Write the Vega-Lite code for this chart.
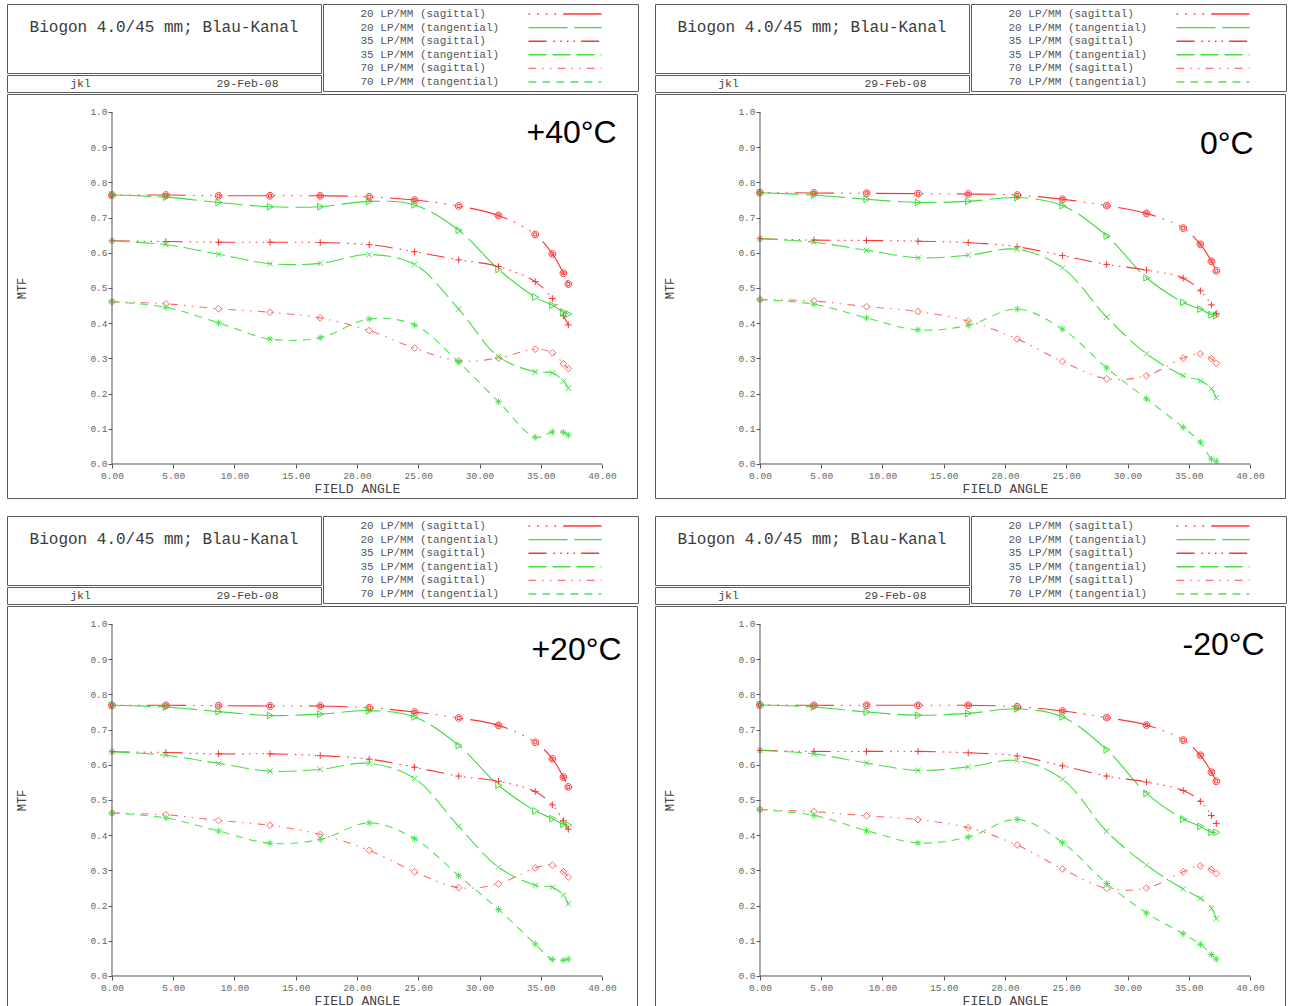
{
"$schema": "https://vega.github.io/schema/vega-lite/v6.json",
"padding": {"left": 6, "top": 3, "right": 0, "bottom": 0},
"background": "white",
"config": {
  "view": {"stroke": "#5a5a5a", "strokeWidth": 1},
  "axis": {"domain": false, "grid": false, "ticks": true, "tickSize": 4, "tickColor": "#555", "labelFont": "Liberation Mono", "labelFontSize": 9.5, "labelColor": "#666", "labelFlush": false, "labelOverlap": false, "labelPadding": 2, "titleFont": "Liberation Mono", "titleFontWeight": "normal", "titleColor": "#444"}
},
"datasets": {
  "series": [{"s":"20s"},{"s":"20t"},{"s":"35s"},{"s":"35t"},{"s":"70s"},{"s":"70t"}],
  "mtf": [
    {"p":"+40","x":0,"20s":0.764,"20t":0.764,"35s":0.634,"35t":0.634,"70s":0.461,"70t":0.461},
    {"p":"+40","x":4.4,"20s":0.764,"20t":0.758,"35s":0.632,"35t":0.623,"70s":0.455,"70t":0.445},
    {"p":"+40","x":8.7,"20s":0.762,"20t":0.743,"35s":0.630,"35t":0.596,"70s":0.441,"70t":0.401},
    {"p":"+40","x":12.9,"20s":0.762,"20t":0.731,"35s":0.630,"35t":0.569,"70s":0.431,"70t":0.355},
    {"p":"+40","x":17.0,"20s":0.762,"20t":0.731,"35s":0.629,"35t":0.570,"70s":0.415,"70t":0.359},
    {"p":"+40","x":21.0,"20s":0.759,"20t":0.746,"35s":0.623,"35t":0.595,"70s":0.379,"70t":0.412},
    {"p":"+40","x":24.7,"20s":0.750,"20t":0.736,"35s":0.603,"35t":0.567,"70s":0.329,"70t":0.395},
    {"p":"+40","x":28.3,"20s":0.733,"20t":0.664,"35s":0.580,"35t":0.440,"70s":0.293,"70t":0.289},
    {"p":"+40","x":31.55,"20s":0.706,"20t":0.553,"35s":0.561,"35t":0.305,"70s":0.301,"70t":0.177},
    {"p":"+40","x":34.55,"20s":0.652,"20t":0.474,"35s":0.518,"35t":0.262,"70s":0.326,"70t":0.076},
    {"p":"+40","x":35.95,"20s":0.597,"20t":0.451,"35s":0.470,"35t":0.259,"70s":0.316,"70t":0.091},
    {"p":"+40","x":36.85,"20s":0.542,"20t":0.432,"35s":0.421,"35t":0.235,"70s":0.285,"70t":0.090},
    {"p":"+40","x":37.25,"20s":0.511,"20t":0.426,"35s":0.395,"35t":0.215,"70s":0.271,"70t":0.082},
    {"p":"0","x":0,"20s":0.771,"20t":0.771,"35s":0.640,"35t":0.640,"70s":0.467,"70t":0.467},
    {"p":"0","x":4.4,"20s":0.770,"20t":0.764,"35s":0.636,"35t":0.630,"70s":0.463,"70t":0.454},
    {"p":"0","x":8.7,"20s":0.769,"20t":0.752,"35s":0.635,"35t":0.607,"70s":0.447,"70t":0.415},
    {"p":"0","x":12.9,"20s":0.768,"20t":0.743,"35s":0.633,"35t":0.586,"70s":0.433,"70t":0.381},
    {"p":"0","x":17.0,"20s":0.767,"20t":0.746,"35s":0.629,"35t":0.593,"70s":0.406,"70t":0.394},
    {"p":"0","x":21.0,"20s":0.764,"20t":0.757,"35s":0.617,"35t":0.610,"70s":0.355,"70t":0.440},
    {"p":"0","x":24.7,"20s":0.752,"20t":0.734,"35s":0.592,"35t":0.557,"70s":0.291,"70t":0.383},
    {"p":"0","x":28.3,"20s":0.734,"20t":0.648,"35s":0.567,"35t":0.417,"70s":0.242,"70t":0.273},
    {"p":"0","x":31.55,"20s":0.712,"20t":0.529,"35s":0.551,"35t":0.313,"70s":0.251,"70t":0.185},
    {"p":"0","x":34.55,"20s":0.670,"20t":0.459,"35s":0.528,"35t":0.251,"70s":0.301,"70t":0.104},
    {"p":"0","x":35.95,"20s":0.624,"20t":0.440,"35s":0.492,"35t":0.237,"70s":0.313,"70t":0.062},
    {"p":"0","x":36.85,"20s":0.576,"20t":0.424,"35s":0.452,"35t":0.214,"70s":0.299,"70t":0.014},
    {"p":"0","x":37.25,"20s":0.549,"20t":0.422,"35s":0.427,"35t":0.188,"70s":0.286,"70t":0.008},
    {"p":"+20","x":0,"20s":0.769,"20t":0.769,"35s":0.637,"35t":0.637,"70s":0.463,"70t":0.463},
    {"p":"+20","x":4.4,"20s":0.769,"20t":0.764,"35s":0.635,"35t":0.627,"70s":0.458,"70t":0.449},
    {"p":"+20","x":8.7,"20s":0.768,"20t":0.751,"35s":0.631,"35t":0.604,"70s":0.442,"70t":0.412},
    {"p":"+20","x":12.9,"20s":0.767,"20t":0.740,"35s":0.631,"35t":0.582,"70s":0.428,"70t":0.377},
    {"p":"+20","x":17.0,"20s":0.767,"20t":0.744,"35s":0.626,"35t":0.587,"70s":0.402,"70t":0.388},
    {"p":"+20","x":21.0,"20s":0.762,"20t":0.754,"35s":0.616,"35t":0.604,"70s":0.357,"70t":0.435},
    {"p":"+20","x":24.7,"20s":0.750,"20t":0.736,"35s":0.593,"35t":0.561,"70s":0.296,"70t":0.390},
    {"p":"+20","x":28.3,"20s":0.733,"20t":0.655,"35s":0.568,"35t":0.425,"70s":0.251,"70t":0.285},
    {"p":"+20","x":31.55,"20s":0.712,"20t":0.542,"35s":0.553,"35t":0.309,"70s":0.262,"70t":0.189},
    {"p":"+20","x":34.55,"20s":0.664,"20t":0.469,"35s":0.524,"35t":0.258,"70s":0.307,"70t":0.091},
    {"p":"+20","x":35.95,"20s":0.617,"20t":0.447,"35s":0.486,"35t":0.252,"70s":0.315,"70t":0.047},
    {"p":"+20","x":36.85,"20s":0.565,"20t":0.431,"35s":0.441,"35t":0.230,"70s":0.296,"70t":0.045},
    {"p":"+20","x":37.25,"20s":0.537,"20t":0.429,"35s":0.417,"35t":0.205,"70s":0.281,"70t":0.048},
    {"p":"-20","x":0,"20s":0.770,"20t":0.770,"35s":0.641,"35t":0.641,"70s":0.473,"70t":0.473},
    {"p":"-20","x":4.4,"20s":0.769,"20t":0.764,"35s":0.638,"35t":0.631,"70s":0.467,"70t":0.456},
    {"p":"-20","x":8.7,"20s":0.769,"20t":0.750,"35s":0.638,"35t":0.605,"70s":0.455,"70t":0.413},
    {"p":"-20","x":12.9,"20s":0.769,"20t":0.741,"35s":0.638,"35t":0.584,"70s":0.444,"70t":0.378},
    {"p":"-20","x":17.0,"20s":0.769,"20t":0.746,"35s":0.634,"35t":0.594,"70s":0.421,"70t":0.395},
    {"p":"-20","x":21.0,"20s":0.765,"20t":0.759,"35s":0.625,"35t":0.612,"70s":0.372,"70t":0.445},
    {"p":"-20","x":24.7,"20s":0.753,"20t":0.736,"35s":0.597,"35t":0.559,"70s":0.304,"70t":0.379},
    {"p":"-20","x":28.3,"20s":0.734,"20t":0.643,"35s":0.568,"35t":0.411,"70s":0.249,"70t":0.263},
    {"p":"-20","x":31.55,"20s":0.713,"20t":0.519,"35s":0.551,"35t":0.315,"70s":0.250,"70t":0.179},
    {"p":"-20","x":34.55,"20s":0.670,"20t":0.446,"35s":0.527,"35t":0.247,"70s":0.296,"70t":0.120},
    {"p":"-20","x":35.95,"20s":0.627,"20t":0.425,"35s":0.496,"35t":0.221,"70s":0.313,"70t":0.090},
    {"p":"-20","x":36.85,"20s":0.579,"20t":0.408,"35s":0.456,"35t":0.192,"70s":0.302,"70t":0.061},
    {"p":"-20","x":37.25,"20s":0.553,"20t":0.408,"35s":0.433,"35t":0.163,"70s":0.291,"70t":0.048}
  ]
},
"resolve": {"scale": {"stroke": "independent", "strokeDash": "independent", "shape": "independent"}, "legend": {"stroke": "independent", "strokeDash": "independent"}},
"vconcat": [
 {"resolve": {"scale": {"stroke": "independent", "strokeDash": "independent", "shape": "independent"}, "legend": {"stroke": "independent", "strokeDash": "independent"}},
  "hconcat": [
  {"resolve": {"scale": {"stroke": "independent", "strokeDash": "independent", "shape": "independent"}, "legend": {"stroke": "independent", "strokeDash": "independent"}},
   "vconcat": [
    {"resolve": {"scale": {"stroke": "independent", "strokeDash": "independent"}, "legend": {"stroke": "independent", "strokeDash": "independent"}},
     "hconcat": [
      {"vconcat": [
        {"width": 314, "height": 69, "data": {"values": [{"t": "Biogon 4.0/45 mm; Blau-Kanal"}]}, "mark": {"type": "text", "font": "Liberation Mono", "fontSize": 16, "color": "#3a3a3a", "dy": -11.5}, "encoding": {"x": {"field": "t", "type": "nominal", "axis": null, "scale": {"type": "point", "padding": 0.5}}, "text": {"field": "t", "type": "nominal"}}},
        {"width": 314, "height": 17, "data": {"values": [{"t": "jkl"}, {"t": "29-Feb-08"}]}, "mark": {"type": "text", "font": "Liberation Mono", "fontSize": 11.5, "color": "#444"}, "encoding": {"x": {"field": "t", "type": "nominal", "sort": null, "axis": null, "scale": {"type": "point", "padding": 0.44}}, "text": {"field": "t", "type": "nominal"}}}
      ], "spacing": 0},
      {"width": 315, "height": 87, "data": {"name": "series"}, "mark": {"type": "line", "strokeWidth": 1.4},
       "encoding": {
        "y": {"field": "s", "type": "nominal", "axis": null},
        "stroke": {"field": "s", "type": "nominal", "scale": {"domain": ["20s","20t","35s","35t","70s","70t"], "range": ["#ff3333","#3ddc3d","#ff3333","#44e044","#ff6a6a","#4be64b"]}, "legend": {"title": null, "orient": "none", "legendX": 235, "legendY": 3, "symbolType": "M-6,0L6,0", "symbolSize": 148, "symbolStrokeWidth": 1.4, "labelFont": "Liberation Mono", "labelFontSize": 11, "labelColor": "#555", "labelAlign": "left", "labelOffset": -211.5, "labelLimit": 300, "rowPadding": 1.6, "padding": 0, "labelExpr": "slice(datum.value,0,2) + ' LP/MM (' + (slice(datum.value,2) == 's' ? 'sagittal' : 'tangential') + ')'"}},
        "strokeDash": {"field": "s", "type": "nominal", "scale": {"domain": ["20s","20t","35s","35t","70s","70t"], "range": [[1.5,7.2,1.5,7.2,1.5,7.2,1.5,7.2,39,7.2],[39,7],[18,7,1.5,5.2,1.5,5.2,1.5,5.2,1.5,6],[18,6],[7.7,6,1.5,6.2,1.5,6.3],[7.8,6.2]]}, "legend": {"title": null, "orient": "none", "legendX": 235, "legendY": 3, "symbolType": "M-6,0L6,0", "symbolSize": 148, "symbolStrokeWidth": 1.4, "labelFont": "Liberation Mono", "labelFontSize": 11, "labelColor": "#555", "labelAlign": "left", "labelOffset": -211.5, "labelLimit": 300, "rowPadding": 1.6, "padding": 0, "labelExpr": "slice(datum.value,0,2) + ' LP/MM (' + (slice(datum.value,2) == 's' ? 'sagittal' : 'tangential') + ')'"}}
       }}
    ], "spacing": 0},
    {"width": 630, "height": 404,
     "layer": [
      {"data": {"name": "mtf"}, "transform": [{"filter": {"field": "p", "equal": "+40"}}, {"fold": ["20s","20t","35s","35t","70s","70t"], "as": ["s","y"]}],
       "mark": {"type": "line", "interpolate": "catmull-rom", "strokeWidth": 1.1},
       "encoding": {
        "x": {"field": "x", "type": "quantitative", "scale": {"domain": [-8.571, 42.857], "nice": false, "zero": false}, "axis": {"orient": "bottom", "offset": -34, "values": [0,5,10,15,20,25,30,35,40], "format": ".2f", "title": "FIELD ANGLE", "titleFontSize": 13, "titleX": 350, "titleY": 28, "titleAlign": "center", "titleBaseline": "alphabetic"}},
        "y": {"field": "y", "type": "quantitative", "scale": {"domain": [-0.0966, 1.0511], "nice": false, "zero": false}, "axis": {"orient": "left", "offset": -105, "values": [0,0.1,0.2,0.3,0.4,0.5,0.6,0.7,0.8,0.9,1], "format": ".1f", "labelPadding": 1, "title": "MTF", "titleFontSize": 12, "titleX": -91, "titleY": 194, "titleAngle": 270, "titleAlign": "center", "titleBaseline": "middle"}},
        "stroke": {"field": "s", "type": "nominal", "scale": {"domain": ["20s","20t","35s","35t","70s","70t"], "range": ["#ff3333","#3ddc3d","#ff3333","#44e044","#ff6a6a","#4be64b"]}, "legend": null},
        "strokeDash": {"field": "s", "type": "nominal", "scale": {"domain": ["20s","20t","35s","35t","70s","70t"], "range": [[1.5,7.2,1.5,7.2,1.5,7.2,1.5,7.2,39,7.2],[39,7],[18,7,1.5,5.2,1.5,5.2,1.5,5.2,1.5,6],[18,6],[7.7,6,1.5,6.2,1.5,6.3],[7.8,6.2]]}, "legend": null}
       }},
      {"data": {"name": "mtf"}, "transform": [{"filter": {"field": "p", "equal": "+40"}}, {"fold": ["20s","20t","35s","35t","70s","70t"], "as": ["s","y"]}],
       "mark": {"type": "point", "filled": false, "size": 45, "strokeWidth": 1, "opacity": 1},
       "encoding": {
        "x": {"field": "x", "type": "quantitative", "scale": {"domain": [-8.571, 42.857], "nice": false, "zero": false}},
        "y": {"field": "y", "type": "quantitative", "scale": {"domain": [-0.0966, 1.0511], "nice": false, "zero": false}},
        "stroke": {"field": "s", "type": "nominal", "scale": {"domain": ["20s","20t","35s","35t","70s","70t"], "range": ["#ff3333","#3ddc3d","#ff3333","#44e044","#ff6a6a","#4be64b"]}, "legend": null},
        "shape": {"field": "s", "type": "nominal", "scale": {"domain": ["20s","20t","35s","35t","70s","70t"], "range": ["M-1,0A1,1,0,1,1,1,0A1,1,0,1,1,-1,0ZM-0.45,-0.45L0.45,-0.45L0.45,0.45L-0.45,0.45Z","M-0.8,-1L1,0L-0.8,1Z","M-1,0L1,0M0,-1L0,1","M-0.8,-0.8L0.8,0.8M-0.8,0.8L0.8,-0.8","M0,-1L1,0L0,1L-1,0Z","M-1,0L1,0M0,-1L0,1M-0.7,-0.7L0.7,0.7M-0.7,0.7L0.7,-0.7"]}, "legend": null}
       }},
      {"data": {"values": [{}]}, "mark": {"type": "rule", "color": "#555", "strokeWidth": 1},
       "encoding": {"x": {"datum": 0, "type": "quantitative", "scale": {"domain": [-8.571, 42.857], "nice": false, "zero": false}}, "x2": {"datum": 40}, "y": {"datum": 0, "type": "quantitative", "scale": {"domain": [-0.0966, 1.0511], "nice": false, "zero": false}}}},
      {"data": {"values": [{}]}, "mark": {"type": "rule", "color": "#555", "strokeWidth": 1},
       "encoding": {"x": {"datum": 0, "type": "quantitative", "scale": {"domain": [-8.571, 42.857], "nice": false, "zero": false}}, "y": {"datum": 0, "type": "quantitative", "scale": {"domain": [-0.0966, 1.0511], "nice": false, "zero": false}}, "y2": {"datum": 1}}},
      {"data": {"values": [{"t": "+40°C"}]}, "mark": {"type": "text", "font": "Liberation Sans", "fontSize": 32, "align": "right", "baseline": "middle", "color": "#000"},
       "encoding": {"x": {"datum": 41.2, "type": "quantitative", "scale": {"domain": [-8.571, 42.857], "nice": false, "zero": false}}, "y": {"datum": 0.94, "type": "quantitative", "scale": {"domain": [-0.0966, 1.0511], "nice": false, "zero": false}}, "text": {"field": "t", "type": "nominal"}}}
     ]}
  ], "spacing": 0},
  {"resolve": {"scale": {"stroke": "independent", "strokeDash": "independent", "shape": "independent"}, "legend": {"stroke": "independent", "strokeDash": "independent"}},
   "vconcat": [
    {"resolve": {"scale": {"stroke": "independent", "strokeDash": "independent"}, "legend": {"stroke": "independent", "strokeDash": "independent"}},
     "hconcat": [
      {"vconcat": [
        {"width": 314, "height": 69, "data": {"values": [{"t": "Biogon 4.0/45 mm; Blau-Kanal"}]}, "mark": {"type": "text", "font": "Liberation Mono", "fontSize": 16, "color": "#3a3a3a", "dy": -11.5}, "encoding": {"x": {"field": "t", "type": "nominal", "axis": null, "scale": {"type": "point", "padding": 0.5}}, "text": {"field": "t", "type": "nominal"}}},
        {"width": 314, "height": 17, "data": {"values": [{"t": "jkl"}, {"t": "29-Feb-08"}]}, "mark": {"type": "text", "font": "Liberation Mono", "fontSize": 11.5, "color": "#444"}, "encoding": {"x": {"field": "t", "type": "nominal", "sort": null, "axis": null, "scale": {"type": "point", "padding": 0.44}}, "text": {"field": "t", "type": "nominal"}}}
      ], "spacing": 0},
      {"width": 315, "height": 87, "data": {"name": "series"}, "mark": {"type": "line", "strokeWidth": 1.4},
       "encoding": {
        "y": {"field": "s", "type": "nominal", "axis": null},
        "stroke": {"field": "s", "type": "nominal", "scale": {"domain": ["20s","20t","35s","35t","70s","70t"], "range": ["#ff3333","#3ddc3d","#ff3333","#44e044","#ff6a6a","#4be64b"]}, "legend": {"title": null, "orient": "none", "legendX": 235, "legendY": 3, "symbolType": "M-6,0L6,0", "symbolSize": 148, "symbolStrokeWidth": 1.4, "labelFont": "Liberation Mono", "labelFontSize": 11, "labelColor": "#555", "labelAlign": "left", "labelOffset": -211.5, "labelLimit": 300, "rowPadding": 1.6, "padding": 0, "labelExpr": "slice(datum.value,0,2) + ' LP/MM (' + (slice(datum.value,2) == 's' ? 'sagittal' : 'tangential') + ')'"}},
        "strokeDash": {"field": "s", "type": "nominal", "scale": {"domain": ["20s","20t","35s","35t","70s","70t"], "range": [[1.5,7.2,1.5,7.2,1.5,7.2,1.5,7.2,39,7.2],[39,7],[18,7,1.5,5.2,1.5,5.2,1.5,5.2,1.5,6],[18,6],[7.7,6,1.5,6.2,1.5,6.3],[7.8,6.2]]}, "legend": {"title": null, "orient": "none", "legendX": 235, "legendY": 3, "symbolType": "M-6,0L6,0", "symbolSize": 148, "symbolStrokeWidth": 1.4, "labelFont": "Liberation Mono", "labelFontSize": 11, "labelColor": "#555", "labelAlign": "left", "labelOffset": -211.5, "labelLimit": 300, "rowPadding": 1.6, "padding": 0, "labelExpr": "slice(datum.value,0,2) + ' LP/MM (' + (slice(datum.value,2) == 's' ? 'sagittal' : 'tangential') + ')'"}}
       }}
    ], "spacing": 0},
    {"width": 630, "height": 404,
     "layer": [
      {"data": {"name": "mtf"}, "transform": [{"filter": {"field": "p", "equal": "0"}}, {"fold": ["20s","20t","35s","35t","70s","70t"], "as": ["s","y"]}],
       "mark": {"type": "line", "interpolate": "catmull-rom", "strokeWidth": 1.1},
       "encoding": {
        "x": {"field": "x", "type": "quantitative", "scale": {"domain": [-8.571, 42.857], "nice": false, "zero": false}, "axis": {"orient": "bottom", "offset": -34, "values": [0,5,10,15,20,25,30,35,40], "format": ".2f", "title": "FIELD ANGLE", "titleFontSize": 13, "titleX": 350, "titleY": 28, "titleAlign": "center", "titleBaseline": "alphabetic"}},
        "y": {"field": "y", "type": "quantitative", "scale": {"domain": [-0.0966, 1.0511], "nice": false, "zero": false}, "axis": {"orient": "left", "offset": -105, "values": [0,0.1,0.2,0.3,0.4,0.5,0.6,0.7,0.8,0.9,1], "format": ".1f", "labelPadding": 1, "title": "MTF", "titleFontSize": 12, "titleX": -91, "titleY": 194, "titleAngle": 270, "titleAlign": "center", "titleBaseline": "middle"}},
        "stroke": {"field": "s", "type": "nominal", "scale": {"domain": ["20s","20t","35s","35t","70s","70t"], "range": ["#ff3333","#3ddc3d","#ff3333","#44e044","#ff6a6a","#4be64b"]}, "legend": null},
        "strokeDash": {"field": "s", "type": "nominal", "scale": {"domain": ["20s","20t","35s","35t","70s","70t"], "range": [[1.5,7.2,1.5,7.2,1.5,7.2,1.5,7.2,39,7.2],[39,7],[18,7,1.5,5.2,1.5,5.2,1.5,5.2,1.5,6],[18,6],[7.7,6,1.5,6.2,1.5,6.3],[7.8,6.2]]}, "legend": null}
       }},
      {"data": {"name": "mtf"}, "transform": [{"filter": {"field": "p", "equal": "0"}}, {"fold": ["20s","20t","35s","35t","70s","70t"], "as": ["s","y"]}],
       "mark": {"type": "point", "filled": false, "size": 45, "strokeWidth": 1, "opacity": 1},
       "encoding": {
        "x": {"field": "x", "type": "quantitative", "scale": {"domain": [-8.571, 42.857], "nice": false, "zero": false}},
        "y": {"field": "y", "type": "quantitative", "scale": {"domain": [-0.0966, 1.0511], "nice": false, "zero": false}},
        "stroke": {"field": "s", "type": "nominal", "scale": {"domain": ["20s","20t","35s","35t","70s","70t"], "range": ["#ff3333","#3ddc3d","#ff3333","#44e044","#ff6a6a","#4be64b"]}, "legend": null},
        "shape": {"field": "s", "type": "nominal", "scale": {"domain": ["20s","20t","35s","35t","70s","70t"], "range": ["M-1,0A1,1,0,1,1,1,0A1,1,0,1,1,-1,0ZM-0.45,-0.45L0.45,-0.45L0.45,0.45L-0.45,0.45Z","M-0.8,-1L1,0L-0.8,1Z","M-1,0L1,0M0,-1L0,1","M-0.8,-0.8L0.8,0.8M-0.8,0.8L0.8,-0.8","M0,-1L1,0L0,1L-1,0Z","M-1,0L1,0M0,-1L0,1M-0.7,-0.7L0.7,0.7M-0.7,0.7L0.7,-0.7"]}, "legend": null}
       }},
      {"data": {"values": [{}]}, "mark": {"type": "rule", "color": "#555", "strokeWidth": 1},
       "encoding": {"x": {"datum": 0, "type": "quantitative", "scale": {"domain": [-8.571, 42.857], "nice": false, "zero": false}}, "x2": {"datum": 40}, "y": {"datum": 0, "type": "quantitative", "scale": {"domain": [-0.0966, 1.0511], "nice": false, "zero": false}}}},
      {"data": {"values": [{}]}, "mark": {"type": "rule", "color": "#555", "strokeWidth": 1},
       "encoding": {"x": {"datum": 0, "type": "quantitative", "scale": {"domain": [-8.571, 42.857], "nice": false, "zero": false}}, "y": {"datum": 0, "type": "quantitative", "scale": {"domain": [-0.0966, 1.0511], "nice": false, "zero": false}}, "y2": {"datum": 1}}},
      {"data": {"values": [{"t": "0°C"}]}, "mark": {"type": "text", "font": "Liberation Sans", "fontSize": 32, "align": "right", "baseline": "middle", "color": "#000"},
       "encoding": {"x": {"datum": 40.3, "type": "quantitative", "scale": {"domain": [-8.571, 42.857], "nice": false, "zero": false}}, "y": {"datum": 0.91, "type": "quantitative", "scale": {"domain": [-0.0966, 1.0511], "nice": false, "zero": false}}, "text": {"field": "t", "type": "nominal"}}}
     ]}
  ], "spacing": 0}
 ], "spacing": 15},
 {"resolve": {"scale": {"stroke": "independent", "strokeDash": "independent", "shape": "independent"}, "legend": {"stroke": "independent", "strokeDash": "independent"}},
  "hconcat": [
  {"resolve": {"scale": {"stroke": "independent", "strokeDash": "independent", "shape": "independent"}, "legend": {"stroke": "independent", "strokeDash": "independent"}},
   "vconcat": [
    {"resolve": {"scale": {"stroke": "independent", "strokeDash": "independent"}, "legend": {"stroke": "independent", "strokeDash": "independent"}},
     "hconcat": [
      {"vconcat": [
        {"width": 314, "height": 69, "data": {"values": [{"t": "Biogon 4.0/45 mm; Blau-Kanal"}]}, "mark": {"type": "text", "font": "Liberation Mono", "fontSize": 16, "color": "#3a3a3a", "dy": -11.5}, "encoding": {"x": {"field": "t", "type": "nominal", "axis": null, "scale": {"type": "point", "padding": 0.5}}, "text": {"field": "t", "type": "nominal"}}},
        {"width": 314, "height": 17, "data": {"values": [{"t": "jkl"}, {"t": "29-Feb-08"}]}, "mark": {"type": "text", "font": "Liberation Mono", "fontSize": 11.5, "color": "#444"}, "encoding": {"x": {"field": "t", "type": "nominal", "sort": null, "axis": null, "scale": {"type": "point", "padding": 0.44}}, "text": {"field": "t", "type": "nominal"}}}
      ], "spacing": 0},
      {"width": 315, "height": 87, "data": {"name": "series"}, "mark": {"type": "line", "strokeWidth": 1.4},
       "encoding": {
        "y": {"field": "s", "type": "nominal", "axis": null},
        "stroke": {"field": "s", "type": "nominal", "scale": {"domain": ["20s","20t","35s","35t","70s","70t"], "range": ["#ff3333","#3ddc3d","#ff3333","#44e044","#ff6a6a","#4be64b"]}, "legend": {"title": null, "orient": "none", "legendX": 235, "legendY": 3, "symbolType": "M-6,0L6,0", "symbolSize": 148, "symbolStrokeWidth": 1.4, "labelFont": "Liberation Mono", "labelFontSize": 11, "labelColor": "#555", "labelAlign": "left", "labelOffset": -211.5, "labelLimit": 300, "rowPadding": 1.6, "padding": 0, "labelExpr": "slice(datum.value,0,2) + ' LP/MM (' + (slice(datum.value,2) == 's' ? 'sagittal' : 'tangential') + ')'"}},
        "strokeDash": {"field": "s", "type": "nominal", "scale": {"domain": ["20s","20t","35s","35t","70s","70t"], "range": [[1.5,7.2,1.5,7.2,1.5,7.2,1.5,7.2,39,7.2],[39,7],[18,7,1.5,5.2,1.5,5.2,1.5,5.2,1.5,6],[18,6],[7.7,6,1.5,6.2,1.5,6.3],[7.8,6.2]]}, "legend": {"title": null, "orient": "none", "legendX": 235, "legendY": 3, "symbolType": "M-6,0L6,0", "symbolSize": 148, "symbolStrokeWidth": 1.4, "labelFont": "Liberation Mono", "labelFontSize": 11, "labelColor": "#555", "labelAlign": "left", "labelOffset": -211.5, "labelLimit": 300, "rowPadding": 1.6, "padding": 0, "labelExpr": "slice(datum.value,0,2) + ' LP/MM (' + (slice(datum.value,2) == 's' ? 'sagittal' : 'tangential') + ')'"}}
       }}
    ], "spacing": 0},
    {"width": 630, "height": 404,
     "layer": [
      {"data": {"name": "mtf"}, "transform": [{"filter": {"field": "p", "equal": "+20"}}, {"fold": ["20s","20t","35s","35t","70s","70t"], "as": ["s","y"]}],
       "mark": {"type": "line", "interpolate": "catmull-rom", "strokeWidth": 1.1},
       "encoding": {
        "x": {"field": "x", "type": "quantitative", "scale": {"domain": [-8.571, 42.857], "nice": false, "zero": false}, "axis": {"orient": "bottom", "offset": -34, "values": [0,5,10,15,20,25,30,35,40], "format": ".2f", "title": "FIELD ANGLE", "titleFontSize": 13, "titleX": 350, "titleY": 28, "titleAlign": "center", "titleBaseline": "alphabetic"}},
        "y": {"field": "y", "type": "quantitative", "scale": {"domain": [-0.0966, 1.0511], "nice": false, "zero": false}, "axis": {"orient": "left", "offset": -105, "values": [0,0.1,0.2,0.3,0.4,0.5,0.6,0.7,0.8,0.9,1], "format": ".1f", "labelPadding": 1, "title": "MTF", "titleFontSize": 12, "titleX": -91, "titleY": 194, "titleAngle": 270, "titleAlign": "center", "titleBaseline": "middle"}},
        "stroke": {"field": "s", "type": "nominal", "scale": {"domain": ["20s","20t","35s","35t","70s","70t"], "range": ["#ff3333","#3ddc3d","#ff3333","#44e044","#ff6a6a","#4be64b"]}, "legend": null},
        "strokeDash": {"field": "s", "type": "nominal", "scale": {"domain": ["20s","20t","35s","35t","70s","70t"], "range": [[1.5,7.2,1.5,7.2,1.5,7.2,1.5,7.2,39,7.2],[39,7],[18,7,1.5,5.2,1.5,5.2,1.5,5.2,1.5,6],[18,6],[7.7,6,1.5,6.2,1.5,6.3],[7.8,6.2]]}, "legend": null}
       }},
      {"data": {"name": "mtf"}, "transform": [{"filter": {"field": "p", "equal": "+20"}}, {"fold": ["20s","20t","35s","35t","70s","70t"], "as": ["s","y"]}],
       "mark": {"type": "point", "filled": false, "size": 45, "strokeWidth": 1, "opacity": 1},
       "encoding": {
        "x": {"field": "x", "type": "quantitative", "scale": {"domain": [-8.571, 42.857], "nice": false, "zero": false}},
        "y": {"field": "y", "type": "quantitative", "scale": {"domain": [-0.0966, 1.0511], "nice": false, "zero": false}},
        "stroke": {"field": "s", "type": "nominal", "scale": {"domain": ["20s","20t","35s","35t","70s","70t"], "range": ["#ff3333","#3ddc3d","#ff3333","#44e044","#ff6a6a","#4be64b"]}, "legend": null},
        "shape": {"field": "s", "type": "nominal", "scale": {"domain": ["20s","20t","35s","35t","70s","70t"], "range": ["M-1,0A1,1,0,1,1,1,0A1,1,0,1,1,-1,0ZM-0.45,-0.45L0.45,-0.45L0.45,0.45L-0.45,0.45Z","M-0.8,-1L1,0L-0.8,1Z","M-1,0L1,0M0,-1L0,1","M-0.8,-0.8L0.8,0.8M-0.8,0.8L0.8,-0.8","M0,-1L1,0L0,1L-1,0Z","M-1,0L1,0M0,-1L0,1M-0.7,-0.7L0.7,0.7M-0.7,0.7L0.7,-0.7"]}, "legend": null}
       }},
      {"data": {"values": [{}]}, "mark": {"type": "rule", "color": "#555", "strokeWidth": 1},
       "encoding": {"x": {"datum": 0, "type": "quantitative", "scale": {"domain": [-8.571, 42.857], "nice": false, "zero": false}}, "x2": {"datum": 40}, "y": {"datum": 0, "type": "quantitative", "scale": {"domain": [-0.0966, 1.0511], "nice": false, "zero": false}}}},
      {"data": {"values": [{}]}, "mark": {"type": "rule", "color": "#555", "strokeWidth": 1},
       "encoding": {"x": {"datum": 0, "type": "quantitative", "scale": {"domain": [-8.571, 42.857], "nice": false, "zero": false}}, "y": {"datum": 0, "type": "quantitative", "scale": {"domain": [-0.0966, 1.0511], "nice": false, "zero": false}}, "y2": {"datum": 1}}},
      {"data": {"values": [{"t": "+20°C"}]}, "mark": {"type": "text", "font": "Liberation Sans", "fontSize": 32, "align": "right", "baseline": "middle", "color": "#000"},
       "encoding": {"x": {"datum": 41.6, "type": "quantitative", "scale": {"domain": [-8.571, 42.857], "nice": false, "zero": false}}, "y": {"datum": 0.925, "type": "quantitative", "scale": {"domain": [-0.0966, 1.0511], "nice": false, "zero": false}}, "text": {"field": "t", "type": "nominal"}}}
     ]}
  ], "spacing": 0},
  {"resolve": {"scale": {"stroke": "independent", "strokeDash": "independent", "shape": "independent"}, "legend": {"stroke": "independent", "strokeDash": "independent"}},
   "vconcat": [
    {"resolve": {"scale": {"stroke": "independent", "strokeDash": "independent"}, "legend": {"stroke": "independent", "strokeDash": "independent"}},
     "hconcat": [
      {"vconcat": [
        {"width": 314, "height": 69, "data": {"values": [{"t": "Biogon 4.0/45 mm; Blau-Kanal"}]}, "mark": {"type": "text", "font": "Liberation Mono", "fontSize": 16, "color": "#3a3a3a", "dy": -11.5}, "encoding": {"x": {"field": "t", "type": "nominal", "axis": null, "scale": {"type": "point", "padding": 0.5}}, "text": {"field": "t", "type": "nominal"}}},
        {"width": 314, "height": 17, "data": {"values": [{"t": "jkl"}, {"t": "29-Feb-08"}]}, "mark": {"type": "text", "font": "Liberation Mono", "fontSize": 11.5, "color": "#444"}, "encoding": {"x": {"field": "t", "type": "nominal", "sort": null, "axis": null, "scale": {"type": "point", "padding": 0.44}}, "text": {"field": "t", "type": "nominal"}}}
      ], "spacing": 0},
      {"width": 315, "height": 87, "data": {"name": "series"}, "mark": {"type": "line", "strokeWidth": 1.4},
       "encoding": {
        "y": {"field": "s", "type": "nominal", "axis": null},
        "stroke": {"field": "s", "type": "nominal", "scale": {"domain": ["20s","20t","35s","35t","70s","70t"], "range": ["#ff3333","#3ddc3d","#ff3333","#44e044","#ff6a6a","#4be64b"]}, "legend": {"title": null, "orient": "none", "legendX": 235, "legendY": 3, "symbolType": "M-6,0L6,0", "symbolSize": 148, "symbolStrokeWidth": 1.4, "labelFont": "Liberation Mono", "labelFontSize": 11, "labelColor": "#555", "labelAlign": "left", "labelOffset": -211.5, "labelLimit": 300, "rowPadding": 1.6, "padding": 0, "labelExpr": "slice(datum.value,0,2) + ' LP/MM (' + (slice(datum.value,2) == 's' ? 'sagittal' : 'tangential') + ')'"}},
        "strokeDash": {"field": "s", "type": "nominal", "scale": {"domain": ["20s","20t","35s","35t","70s","70t"], "range": [[1.5,7.2,1.5,7.2,1.5,7.2,1.5,7.2,39,7.2],[39,7],[18,7,1.5,5.2,1.5,5.2,1.5,5.2,1.5,6],[18,6],[7.7,6,1.5,6.2,1.5,6.3],[7.8,6.2]]}, "legend": {"title": null, "orient": "none", "legendX": 235, "legendY": 3, "symbolType": "M-6,0L6,0", "symbolSize": 148, "symbolStrokeWidth": 1.4, "labelFont": "Liberation Mono", "labelFontSize": 11, "labelColor": "#555", "labelAlign": "left", "labelOffset": -211.5, "labelLimit": 300, "rowPadding": 1.6, "padding": 0, "labelExpr": "slice(datum.value,0,2) + ' LP/MM (' + (slice(datum.value,2) == 's' ? 'sagittal' : 'tangential') + ')'"}}
       }}
    ], "spacing": 0},
    {"width": 630, "height": 404,
     "layer": [
      {"data": {"name": "mtf"}, "transform": [{"filter": {"field": "p", "equal": "-20"}}, {"fold": ["20s","20t","35s","35t","70s","70t"], "as": ["s","y"]}],
       "mark": {"type": "line", "interpolate": "catmull-rom", "strokeWidth": 1.1},
       "encoding": {
        "x": {"field": "x", "type": "quantitative", "scale": {"domain": [-8.571, 42.857], "nice": false, "zero": false}, "axis": {"orient": "bottom", "offset": -34, "values": [0,5,10,15,20,25,30,35,40], "format": ".2f", "title": "FIELD ANGLE", "titleFontSize": 13, "titleX": 350, "titleY": 28, "titleAlign": "center", "titleBaseline": "alphabetic"}},
        "y": {"field": "y", "type": "quantitative", "scale": {"domain": [-0.0966, 1.0511], "nice": false, "zero": false}, "axis": {"orient": "left", "offset": -105, "values": [0,0.1,0.2,0.3,0.4,0.5,0.6,0.7,0.8,0.9,1], "format": ".1f", "labelPadding": 1, "title": "MTF", "titleFontSize": 12, "titleX": -91, "titleY": 194, "titleAngle": 270, "titleAlign": "center", "titleBaseline": "middle"}},
        "stroke": {"field": "s", "type": "nominal", "scale": {"domain": ["20s","20t","35s","35t","70s","70t"], "range": ["#ff3333","#3ddc3d","#ff3333","#44e044","#ff6a6a","#4be64b"]}, "legend": null},
        "strokeDash": {"field": "s", "type": "nominal", "scale": {"domain": ["20s","20t","35s","35t","70s","70t"], "range": [[1.5,7.2,1.5,7.2,1.5,7.2,1.5,7.2,39,7.2],[39,7],[18,7,1.5,5.2,1.5,5.2,1.5,5.2,1.5,6],[18,6],[7.7,6,1.5,6.2,1.5,6.3],[7.8,6.2]]}, "legend": null}
       }},
      {"data": {"name": "mtf"}, "transform": [{"filter": {"field": "p", "equal": "-20"}}, {"fold": ["20s","20t","35s","35t","70s","70t"], "as": ["s","y"]}],
       "mark": {"type": "point", "filled": false, "size": 45, "strokeWidth": 1, "opacity": 1},
       "encoding": {
        "x": {"field": "x", "type": "quantitative", "scale": {"domain": [-8.571, 42.857], "nice": false, "zero": false}},
        "y": {"field": "y", "type": "quantitative", "scale": {"domain": [-0.0966, 1.0511], "nice": false, "zero": false}},
        "stroke": {"field": "s", "type": "nominal", "scale": {"domain": ["20s","20t","35s","35t","70s","70t"], "range": ["#ff3333","#3ddc3d","#ff3333","#44e044","#ff6a6a","#4be64b"]}, "legend": null},
        "shape": {"field": "s", "type": "nominal", "scale": {"domain": ["20s","20t","35s","35t","70s","70t"], "range": ["M-1,0A1,1,0,1,1,1,0A1,1,0,1,1,-1,0ZM-0.45,-0.45L0.45,-0.45L0.45,0.45L-0.45,0.45Z","M-0.8,-1L1,0L-0.8,1Z","M-1,0L1,0M0,-1L0,1","M-0.8,-0.8L0.8,0.8M-0.8,0.8L0.8,-0.8","M0,-1L1,0L0,1L-1,0Z","M-1,0L1,0M0,-1L0,1M-0.7,-0.7L0.7,0.7M-0.7,0.7L0.7,-0.7"]}, "legend": null}
       }},
      {"data": {"values": [{}]}, "mark": {"type": "rule", "color": "#555", "strokeWidth": 1},
       "encoding": {"x": {"datum": 0, "type": "quantitative", "scale": {"domain": [-8.571, 42.857], "nice": false, "zero": false}}, "x2": {"datum": 40}, "y": {"datum": 0, "type": "quantitative", "scale": {"domain": [-0.0966, 1.0511], "nice": false, "zero": false}}}},
      {"data": {"values": [{}]}, "mark": {"type": "rule", "color": "#555", "strokeWidth": 1},
       "encoding": {"x": {"datum": 0, "type": "quantitative", "scale": {"domain": [-8.571, 42.857], "nice": false, "zero": false}}, "y": {"datum": 0, "type": "quantitative", "scale": {"domain": [-0.0966, 1.0511], "nice": false, "zero": false}}, "y2": {"datum": 1}}},
      {"data": {"values": [{"t": "-20°C"}]}, "mark": {"type": "text", "font": "Liberation Sans", "fontSize": 32, "align": "right", "baseline": "middle", "color": "#000"},
       "encoding": {"x": {"datum": 41.2, "type": "quantitative", "scale": {"domain": [-8.571, 42.857], "nice": false, "zero": false}}, "y": {"datum": 0.94, "type": "quantitative", "scale": {"domain": [-0.0966, 1.0511], "nice": false, "zero": false}}, "text": {"field": "t", "type": "nominal"}}}
     ]}
  ], "spacing": 0}
 ], "spacing": 15}
],
"spacing": 16
}
